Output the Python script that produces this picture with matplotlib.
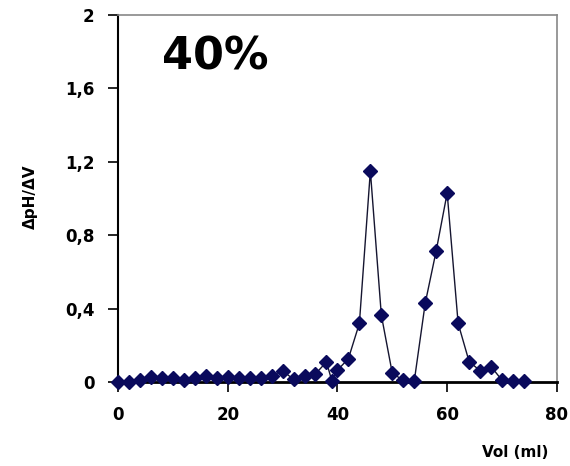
import matplotlib.pyplot as plt

# 數據
vol = [0, 2, 4, 6, 8, 10, 12, 14, 16, 18, 20, 22, 24, 26, 28, 30, 32, 34, 36, 38, 39,
       40, 42, 44, 46, 48, 50, 52, 54, 56, 58, 60, 62, 64, 66, 68, 70, 72, 74]
dph = [0.0, 0.0, 0.012, 0.03, 0.025, 0.022, 0.01, 0.022, 0.032, 0.022, 0.028, 0.02, 0.022,
       0.025, 0.035, 0.062, 0.015, 0.035, 0.045, 0.11, 0.005,
       0.065, 0.128, 0.32, 1.15, 0.365, 0.048, 0.01, 0.005, 0.43, 0.715, 1.03, 0.32,
       0.112, 0.062, 0.085, 0.01, 0.008, 0.008]

yticks = [0, 0.4, 0.8, 1.2, 1.6, 2]
ylabels = ['0', '0,4', '0,8', '1,2', '1,6', '2']
xticks = [0, 20, 40, 60, 80]

fig = plt.figure(figsize=(5.7, 4.66), dpi=100)
ax = fig.add_axes([0.207, 0.180, 0.770, 0.788])

ax.plot(vol, dph, color='#151530', linewidth=1.0, marker='D', markersize=7,
        markerfacecolor='#0a0a5c', markeredgecolor='#0a0a5c', clip_on=False, zorder=3)

ax.set_xlim(0, 80)
ax.set_ylim(0, 2)
ax.set_xticks(xticks)
ax.set_xticklabels([str(t) for t in xticks], fontweight='bold', fontsize=12)
ax.set_yticks(yticks)
ax.set_yticklabels(ylabels, fontweight='bold', fontsize=12)
ax.tick_params(axis='both', direction='out', length=7, width=1.2, color='black', pad=10)

for s in ['top', 'right']:
    ax.spines[s].set_color('#888888')
    ax.spines[s].set_linewidth(1.2)
ax.spines['left'].set_linewidth(1.5)
ax.spines['bottom'].set_linewidth(2.0)

ax.text(8, 1.77, '40%', fontsize=32, fontweight='bold', ha='left', va='center')
fig.text(0.053, 0.577, 'ΔpH/ΔV', rotation=90, fontsize=11, fontweight='bold',
         ha='center', va='center')
fig.text(0.904, 0.030, 'Vol (ml)', fontsize=11, fontweight='bold', ha='center', va='center')

plt.savefig('out.png')
